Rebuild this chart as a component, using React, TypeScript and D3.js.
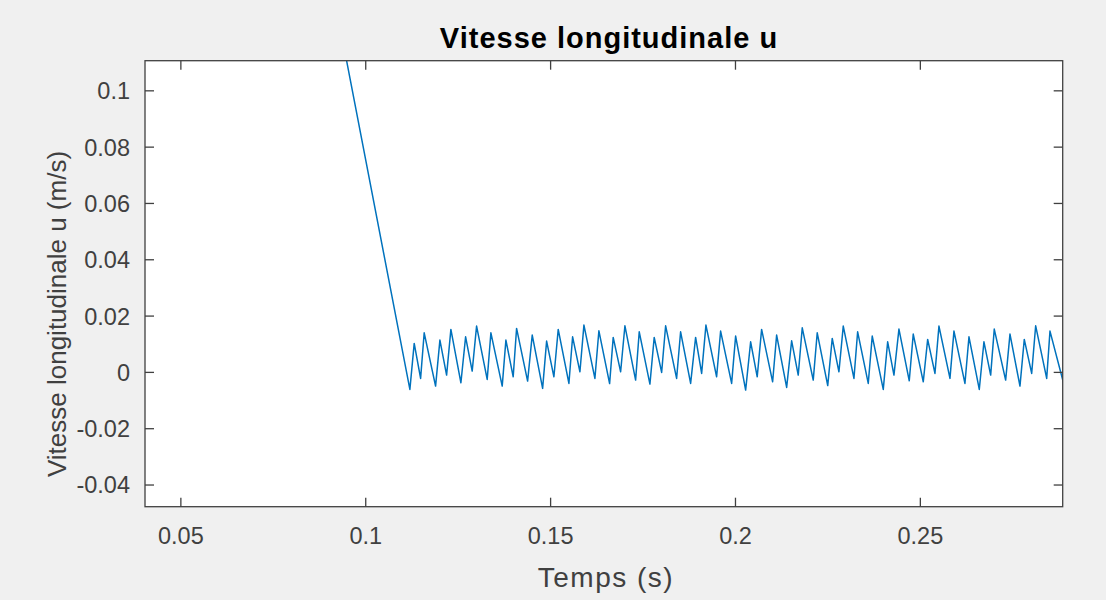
import React from 'react';
import * as d3 from 'd3';

const timeS = [
  0.0900, 0.11194, 0.11311, 0.11484, 0.11581, 0.11889, 0.12006, 0.12187, 0.12303, 0.12574,
  0.12701, 0.12879, 0.12998, 0.13285, 0.13385, 0.13691, 0.13791, 0.13988, 0.14080, 0.14378,
  0.14503, 0.14784, 0.14892, 0.15089, 0.15206, 0.15495, 0.15595, 0.15793, 0.15901, 0.16198,
  0.16306, 0.16596, 0.16693, 0.16894, 0.17010, 0.17299, 0.17397, 0.17686, 0.17802, 0.18003,
  0.18111, 0.18408, 0.18516, 0.18787, 0.18922, 0.19085, 0.19201, 0.19490, 0.19598, 0.19896,
  0.20004, 0.20275, 0.20410, 0.20588, 0.20707, 0.21005, 0.21113, 0.21384, 0.21519, 0.21697,
  0.21806, 0.22103, 0.22211, 0.22495, 0.22617, 0.22798, 0.22915, 0.23204, 0.23304, 0.23591,
  0.23699, 0.23997, 0.24116, 0.24286, 0.24421, 0.24700, 0.24808, 0.25079, 0.25198, 0.25395,
  0.25503, 0.25801, 0.25909, 0.26206, 0.26315, 0.26594, 0.26720, 0.26902, 0.26999, 0.27307,
  0.27424, 0.27694, 0.27811, 0.28011, 0.28119, 0.28417, 0.28506, 0.28900,
];

const speedU = [
  0.1436, -0.00604, 0.01030, -0.00213, 0.01406, -0.00487, 0.01147, -0.00096, 0.01527, -0.00369,
  0.01264, 0.00046, 0.01644, -0.00249, 0.01406, -0.00487, 0.01147, -0.00156, 0.01563, -0.00309,
  0.01325, -0.00568, 0.01112, -0.00156, 0.01527, -0.00391, 0.01264, 0.00021, 0.01680, -0.00213,
  0.01477, -0.00398, 0.01243, 0.00021, 0.01655, -0.00273, 0.01442, -0.00415, 0.01243, 0.00000,
  0.01655, -0.00213, 0.01442, -0.00391, 0.01243, -0.00036, 0.01680, -0.00156, 0.01467, -0.00391,
  0.01289, -0.00629, 0.01087, -0.00156, 0.01527, -0.00334, 0.01325, -0.00533, 0.01122, -0.00096,
  0.01584, -0.00273, 0.01406, -0.00469, 0.01207, 0.00021, 0.01644, -0.00213, 0.01442, -0.00391,
  0.01289, -0.00604, 0.01087, -0.00096, 0.01538, -0.00298, 0.01360, -0.00334, 0.01172, -0.00036,
  0.01644, -0.00213, 0.01467, -0.00391, 0.01264, -0.00604, 0.01087, -0.00096, 0.01538, -0.00273,
  0.01360, -0.00487, 0.01172, -0.00036, 0.01655, -0.00213, 0.01467, -0.00520,
];

const xTicks = [0.05, 0.1, 0.15, 0.2, 0.25];
const xTickLabels = ['0.05', '0.1', '0.15', '0.2', '0.25'];
const yTicks = [-0.04, -0.02, 0, 0.02, 0.04, 0.06, 0.08, 0.1];
const yTickLabels = ['-0.04', '-0.02', '0', '0.02', '0.04', '0.06', '0.08', '0.1'];

const chartTitle = 'Vitesse longitudinale u';
const xLabel = 'Temps (s)';
const yLabel = 'Vitesse longitudinale u (m/s)';

const W = 1106;
const H = 600;
const left = 145;
const right = 1062.7;
const top = 60.7;
const bottom = 506.7;
const axisColor = '#404040';
const font = '"Liberation Sans", Arial, Helvetica, sans-serif';

export default function App() {
  const x = d3.scaleLinear().domain([0.0403, 0.2885]).range([left, right]);
  const y = d3.scaleLinear().domain([-0.0477, 0.1107]).range([bottom, top]);
  const pts: [number, number][] = timeS.map((t, i) => [t, speedU[i]]);
  const line = d3
    .line<[number, number]>()
    .x((d) => x(d[0]))
    .y((d) => y(d[1]));
  const tickLen = 9;

  return (
    <svg
      width={W}
      height={H}
      style={{ position: 'absolute', left: 0, top: 0, display: 'block' }}
      fontFamily={font}
    >
      <rect x={0} y={0} width={W} height={H} fill="#f0f0f0" />
      <defs>
        <clipPath id="plotclip">
          <rect x={left} y={top} width={right - left} height={bottom - top} />
        </clipPath>
      </defs>
      <rect x={left} y={top} width={right - left} height={bottom - top} fill="#ffffff" />
      <path
        d={line(pts) || ''}
        fill="none"
        stroke="#0072BD"
        strokeWidth={1.5}
        strokeLinejoin="round"
        clipPath="url(#plotclip)"
      />
      <rect
        x={left}
        y={top}
        width={right - left}
        height={bottom - top}
        fill="none"
        stroke={axisColor}
        strokeWidth={1.3}
      />
      {xTicks.map((t, i) => (
        <g key={'xt' + i}>
          <line x1={x(t)} x2={x(t)} y1={bottom} y2={bottom - tickLen} stroke={axisColor} strokeWidth={1.3} />
          <line x1={x(t)} x2={x(t)} y1={top} y2={top + tickLen} stroke={axisColor} strokeWidth={1.3} />
          <text
            x={x(t)}
            y={bottom + 37}
            textAnchor="middle"
            fontSize={23.5}
            fill={axisColor}
          >
            {xTickLabels[i]}
          </text>
        </g>
      ))}
      {yTicks.map((v, i) => (
        <g key={'yt' + i}>
          <line x1={left} x2={left + tickLen} y1={y(v)} y2={y(v)} stroke={axisColor} strokeWidth={1.3} />
          <line x1={right} x2={right - tickLen} y1={y(v)} y2={y(v)} stroke={axisColor} strokeWidth={1.3} />
          <text
            x={left - 15}
            y={y(v)}
            dy="0.36em"
            textAnchor="end"
            fontSize={23.5}
            fill={axisColor}
          >
            {yTickLabels[i]}
          </text>
        </g>
      ))}
      <text
        x={609}
        y={48}
        textAnchor="middle"
        fontSize={29}
        fontWeight="bold"
        letterSpacing={1}
        fill="#000000"
      >
        {chartTitle}
      </text>
      <text
        x={606}
        y={587}
        textAnchor="middle"
        fontSize={28}
        letterSpacing={1.5}
        fill={axisColor}
      >
        {xLabel}
      </text>
      <text
        transform={`translate(${66}, ${314}) rotate(-90)`}
        textAnchor="middle"
        fontSize={26}
        fill={axisColor}
      >
        {yLabel}
      </text>
    </svg>
  );
}
